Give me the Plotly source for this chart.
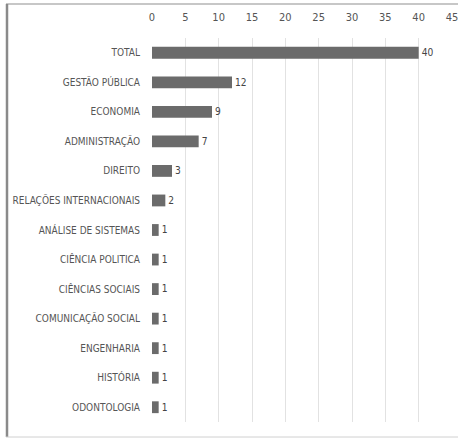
import plotly.graph_objects as go

categories = ["TOTAL", "GESTÃO PÚBLICA", "ECONOMIA", "ADMINISTRAÇÃO", "DIREITO",
              "RELAÇÕES INTERNACIONAIS", "ANÁLISE DE SISTEMAS", "CIÊNCIA POLITICA",
              "CIÊNCIAS SOCIAIS", "COMUNICAÇÃO SOCIAL", "ENGENHARIA", "HISTÓRIA", "ODONTOLOGIA"]
values = [40, 12, 9, 7, 3, 2, 1, 1, 1, 1, 1, 1, 1]
x_ticks = [0, 5, 10, 15, 20, 25, 30, 35, 40, 45]

FONT = "Liberation Sans Narrow, DejaVu Sans Condensed, Arial Narrow, sans-serif"

fig = go.Figure(go.Bar(
    y=categories, x=values, orientation="h",
    marker=dict(color="#6b6b6b", line=dict(width=0)),
    width=0.4,
    text=[str(v) for v in values], textposition="outside",
    textfont=dict(family=FONT, size=12, color="#444444"),
    cliponaxis=False,
))

W, H = 458, 438
L, R, T, B = 152, 6, 38, 16
pw = W - L - R
ph = H - T - B

def px_x(p):
    return (p - L) / pw

def px_y(p):
    return 1 - (p - T) / ph

fig.update_layout(
    width=W, height=H,
    margin=dict(l=L, r=R, t=T, b=B, autoexpand=False),
    paper_bgcolor="white", plot_bgcolor="white",
    showlegend=False,
    font=dict(family=FONT, size=11, color="#555555"),
    xaxis=dict(side="top", range=[0, 45], tickvals=x_ticks, showgrid=True,
               gridcolor="#e2e2e2", gridwidth=1, zeroline=False, showline=False,
               ticks="", ticklabelstandoff=14, tickfont=dict(size=11, color="#555555"),
               ticklabeloverflow="allow", automargin=False, fixedrange=True),
    yaxis=dict(autorange="reversed", showgrid=False, zeroline=False, showline=False,
               ticks="", ticklabelstandoff=11, tickfont=dict(size=10, color="#555555"),
               automargin=False, fixedrange=True),
    shapes=[
        dict(type="line", xref="paper", yref="paper", x0=px_x(6), x1=px_x(458),
             y0=px_y(4), y1=px_y(4), line=dict(color="#b5b5b5", width=1.5)),
        dict(type="line", xref="paper", yref="paper", x0=px_x(7), x1=px_x(7),
             y0=px_y(4), y1=px_y(437), line=dict(color="#8a8a8a", width=2.5)),
        dict(type="line", xref="paper", yref="paper", x0=px_x(6), x1=px_x(458),
             y0=px_y(437), y1=px_y(437), line=dict(color="#d0d0d0", width=1)),
    ],
)

fig.write_html("out.html")
